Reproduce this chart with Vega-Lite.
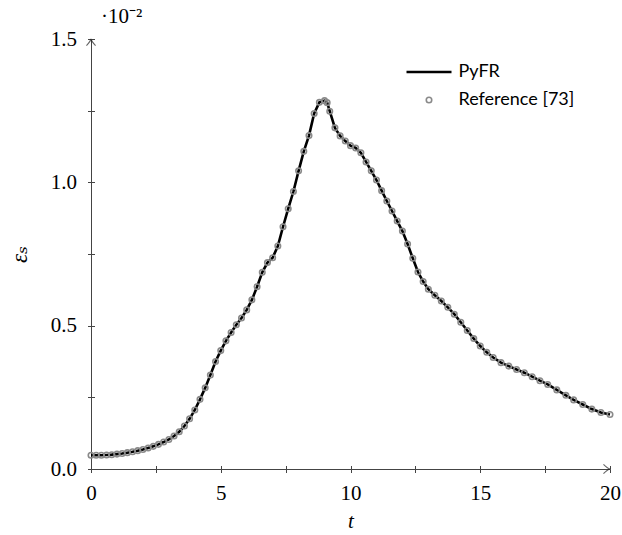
{
  "$schema": "https://vega.github.io/schema/vega-lite/v6.json",
  "autosize": "none",
  "width": 519,
  "height": 430,
  "padding": {"left": 91, "top": 39, "right": 12, "bottom": 66},
  "background": "white",
  "config": {"view": {"stroke": null}},
  "title": {"text": "·10⁻²", "anchor": "start", "frame": "group", "dx": 10, "offset": 1, "font": "Liberation Serif", "fontSize": 21, "fontWeight": "normal", "color": "black"},
  "data": {"values": [
    {"t": 0.0, "v": 0.048}, {"t": 0.2, "v": 0.048}, {"t": 0.4, "v": 0.048}, {"t": 0.6, "v": 0.049},
    {"t": 0.8, "v": 0.050}, {"t": 1.0, "v": 0.052}, {"t": 1.2, "v": 0.054}, {"t": 1.4, "v": 0.057},
    {"t": 1.6, "v": 0.060}, {"t": 1.8, "v": 0.064}, {"t": 2.0, "v": 0.068}, {"t": 2.2, "v": 0.073},
    {"t": 2.4, "v": 0.079}, {"t": 2.6, "v": 0.086}, {"t": 2.8, "v": 0.094}, {"t": 3.0, "v": 0.103},
    {"t": 3.2, "v": 0.115}, {"t": 3.4, "v": 0.130}, {"t": 3.6, "v": 0.150}, {"t": 3.8, "v": 0.175},
    {"t": 4.0, "v": 0.206}, {"t": 4.2, "v": 0.243}, {"t": 4.4, "v": 0.283}, {"t": 4.6, "v": 0.328},
    {"t": 4.8, "v": 0.375}, {"t": 5.0, "v": 0.413}, {"t": 5.2, "v": 0.447}, {"t": 5.4, "v": 0.476},
    {"t": 5.6, "v": 0.503}, {"t": 5.8, "v": 0.527}, {"t": 6.0, "v": 0.555}, {"t": 6.2, "v": 0.590},
    {"t": 6.4, "v": 0.636}, {"t": 6.6, "v": 0.686}, {"t": 6.8, "v": 0.720}, {"t": 7.0, "v": 0.737},
    {"t": 7.2, "v": 0.778}, {"t": 7.4, "v": 0.845}, {"t": 7.6, "v": 0.908}, {"t": 7.8, "v": 0.968},
    {"t": 8.0, "v": 1.040}, {"t": 8.2, "v": 1.108}, {"t": 8.4, "v": 1.163}, {"t": 8.6, "v": 1.240},
    {"t": 8.8, "v": 1.279}, {"t": 9.0, "v": 1.285}, {"t": 9.1, "v": 1.278}, {"t": 9.2, "v": 1.248},
    {"t": 9.4, "v": 1.190}, {"t": 9.6, "v": 1.162}, {"t": 9.8, "v": 1.144}, {"t": 10.0, "v": 1.128},
    {"t": 10.2, "v": 1.120}, {"t": 10.4, "v": 1.103}, {"t": 10.6, "v": 1.071}, {"t": 10.8, "v": 1.040},
    {"t": 11.0, "v": 1.008}, {"t": 11.2, "v": 0.971}, {"t": 11.4, "v": 0.935}, {"t": 11.6, "v": 0.900},
    {"t": 11.8, "v": 0.865}, {"t": 12.0, "v": 0.830}, {"t": 12.2, "v": 0.785}, {"t": 12.4, "v": 0.735},
    {"t": 12.6, "v": 0.687}, {"t": 12.8, "v": 0.654}, {"t": 13.0, "v": 0.627}, {"t": 13.25, "v": 0.606},
    {"t": 13.5, "v": 0.586}, {"t": 13.75, "v": 0.564}, {"t": 14.0, "v": 0.540}, {"t": 14.25, "v": 0.512},
    {"t": 14.5, "v": 0.483}, {"t": 14.75, "v": 0.455}, {"t": 15.0, "v": 0.429}, {"t": 15.25, "v": 0.407},
    {"t": 15.5, "v": 0.389}, {"t": 15.8, "v": 0.371}, {"t": 16.1, "v": 0.359}, {"t": 16.4, "v": 0.347},
    {"t": 16.7, "v": 0.336}, {"t": 17.0, "v": 0.322}, {"t": 17.3, "v": 0.308}, {"t": 17.6, "v": 0.295},
    {"t": 17.95, "v": 0.276}, {"t": 18.3, "v": 0.257}, {"t": 18.6, "v": 0.241}, {"t": 18.95, "v": 0.225},
    {"t": 19.3, "v": 0.209}, {"t": 19.65, "v": 0.197}, {"t": 20.0, "v": 0.190}
  ]},
  "resolve": {"axis": {"x": "independent", "y": "independent"}},
  "layer": [
    {
      "mark": {"type": "line", "strokeWidth": 2.6, "color": "black"},
      "encoding": {
        "x": {"field": "t", "type": "quantitative",
          "scale": {"domain": [0, 20], "nice": false, "zero": false},
          "axis": {"orient": "bottom", "values": [0, 2.5, 5, 7.5, 10, 12.5, 15, 17.5, 20],
            "labelExpr": "datum.value % 5 === 0 ? format(datum.value, 'd') : ''",
            "grid": false, "domain": true, "domainColor": "#444", "domainWidth": 1,
            "ticks": true, "tickSize": 3.5, "tickColor": "#444", "tickWidth": 1,
            "labelFont": "Liberation Serif", "labelFontSize": 21, "labelColor": "black", "labelPadding": 10,
            "labelOverlap": false, "labelFlush": false,
            "title": "t", "titleFont": "Liberation Serif", "titleFontStyle": "italic", "titleFontWeight": "normal",
            "titleFontSize": 21, "titleColor": "black", "titlePadding": 7}},
        "y": {"field": "v", "type": "quantitative",
          "scale": {"domain": [0, 1.5], "nice": false, "zero": false},
          "axis": {"orient": "left", "values": [0, 0.25, 0.5, 0.75, 1, 1.25, 1.5],
            "labelExpr": "datum.value % 0.5 === 0 ? format(datum.value, '.1f') : ''",
            "grid": false, "domain": true, "domainColor": "#444", "domainWidth": 1,
            "ticks": true, "tickSize": 3.5, "tickColor": "#444", "tickWidth": 1,
            "labelFont": "Liberation Serif", "labelFontSize": 21, "labelColor": "black", "labelPadding": 11,
            "labelOverlap": false, "labelFlush": false,
            "title": "εₛ", "titleFont": "Liberation Serif, DejaVu Serif", "titleFontStyle": "italic", "titleFontWeight": "normal",
            "titleFontSize": 23, "titleColor": "black", "titlePadding": 19}},
        "color": {"datum": "PyFR",
          "scale": {"domain": ["PyFR", "Reference [73]"], "range": ["#000000", "#8a8a8a"]},
          "legend": {"orient": "none", "legendX": 329, "legendY": 24, "title": null,
            "labelFont": "Lato", "labelFontSize": 18, "labelColor": "black", "labelOffset": 20.5,
            "rowPadding": 10,
            "encode": {"symbols": {"update": {"strokeWidth": {"signal": "datum.label === 'PyFR' ? 2.6 : 1.6"}}}}}}
      }
    },
    {
      "mark": {"type": "point", "filled": false, "strokeWidth": 1.6, "opacity": 1},
      "encoding": {
        "x": {"field": "t", "type": "quantitative",
          "axis": {"orient": "bottom", "values": [0, 2.5, 5, 7.5, 10, 12.5, 15, 17.5, 20],
            "grid": false, "domain": false, "labels": false, "ticks": true, "tickSize": 3.5,
            "tickColor": "#444", "tickWidth": 1, "offset": -3.5, "title": null}},
        "y": {"field": "v", "type": "quantitative",
          "axis": {"orient": "left", "values": [0, 0.25, 0.5, 0.75, 1, 1.25, 1.5],
            "grid": false, "domain": false, "labels": false, "ticks": true, "tickSize": 3.5,
            "tickColor": "#444", "tickWidth": 1, "offset": -3.5, "title": null}},
        "color": {"datum": "Reference [73]"},
        "shape": {"datum": "Reference [73]",
          "scale": {"domain": ["PyFR", "Reference [73]"], "range": ["stroke", "circle"]}},
        "size": {"datum": "Reference [73]", "type": "nominal",
          "scale": {"type": "ordinal", "domain": ["PyFR", "Reference [73]"], "range": [2025, 30]}}
      }
    },
    {
      "data": {"values": [{}]},
      "mark": {"type": "point", "shape": "M-1,-0.7Q-0.4,-0.1,0,0Q-0.4,0.1,-1,0.7", "filled": false, "stroke": "#222", "strokeWidth": 1.1, "size": 170},
      "encoding": {"x": {"datum": 20, "type": "quantitative", "axis": null}, "y": {"datum": 0, "type": "quantitative", "axis": null}}
    },
    {
      "data": {"values": [{}]},
      "mark": {"type": "point", "shape": "M-0.7,1Q-0.1,0.4,0,0Q0.1,0.4,0.7,1", "filled": false, "stroke": "#222", "strokeWidth": 1.1, "size": 170},
      "encoding": {"x": {"datum": 0, "type": "quantitative", "axis": null}, "y": {"datum": 1.5, "type": "quantitative", "axis": null}}
    }
  ]
}
